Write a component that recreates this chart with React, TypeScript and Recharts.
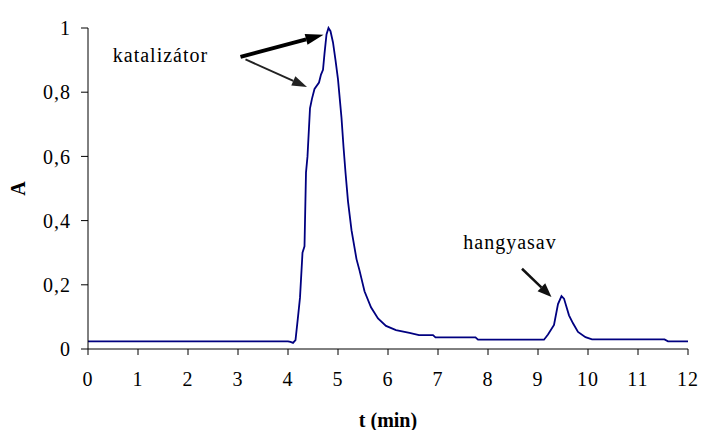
import React from "react";
import {
  LineChart,
  Line,
  XAxis,
  YAxis,
  ReferenceLine,
  ReferenceDot,
  Label,
} from "recharts";

// chromatogram readings: time (min) and absorbance
const times = [
  0, 4.0, 4.05, 4.1, 4.15, 4.2, 4.24, 4.29, 4.33, 4.36, 4.39, 4.44, 4.48, 4.53,
  4.62, 4.66, 4.7, 4.73, 4.77, 4.81, 4.85, 4.9, 4.95, 5.0, 5.07, 5.11, 5.15, 5.2,
  5.27, 5.37, 5.43, 5.53, 5.66, 5.8, 5.96, 6.16, 6.43, 6.62, 6.9, 6.95, 7.75,
  7.8, 9.12, 9.2, 9.32, 9.4, 9.47, 9.52, 9.62, 9.7, 9.8, 9.95, 10.08, 11.53,
  11.6, 12,
];
const absorbance = [
  0.024, 0.024, 0.022, 0.019, 0.028, 0.1, 0.16, 0.3, 0.32, 0.55, 0.6, 0.75, 0.78,
  0.81, 0.83, 0.855, 0.87, 0.92, 0.98, 1.0, 0.99, 0.955, 0.9, 0.84, 0.72, 0.63,
  0.55, 0.46, 0.37, 0.28, 0.245, 0.18, 0.13, 0.095, 0.072, 0.059, 0.05, 0.043,
  0.043, 0.036, 0.036, 0.029, 0.029, 0.045, 0.075, 0.14, 0.165, 0.157, 0.105,
  0.08, 0.053, 0.037, 0.03, 0.03, 0.024, 0.024,
];

const xTicks = [0, 1, 2, 3, 4, 5, 6, 7, 8, 9, 10, 11, 12];
const yTicks = [0, 0.2, 0.4, 0.6, 0.8, 1];

// annotation arrows in data units: [from, to]
const catalystArrowBig = [{ x: 3.05, y: 0.91 }, { x: 4.71, y: 0.979 }];
const catalystArrowSmall = [{ x: 3.15, y: 0.902 }, { x: 4.38, y: 0.816 }];
const acidArrow = [{ x: 8.68, y: 0.25 }, { x: 9.27, y: 0.162 }];
const catalystLabel = { x: 1.45, y: 0.895, text: "katalizátor" };
const acidLabel = { x: 8.44, y: 0.31, text: "hangyasav" };

const data = times.map((t, i) => ({ t, a: absorbance[i] }));

const FONT = "'Liberation Serif', 'Times New Roman', serif";

const arrowShape =
  (width: number, headLen: number, headWidth: number, color = "#000") =>
  (props: any) => {
    const { x1, y1, x2, y2 } = props;
    const dx = x2 - x1;
    const dy = y2 - y1;
    const len = Math.sqrt(dx * dx + dy * dy);
    const ux = dx / len;
    const uy = dy / len;
    const bx = x2 - ux * headLen;
    const by = y2 - uy * headLen;
    const px = -uy * (headWidth / 2);
    const py = ux * (headWidth / 2);
    return (
      <g>
        <line x1={x1} y1={y1} x2={bx} y2={by} stroke={color} strokeWidth={width} />
        <polygon
          points={`${x2},${y2} ${bx + px},${by + py} ${bx - px},${by - py}`}
          fill={color}
        />
      </g>
    );
  };

const textShape = (text: string) => (props: any) => (
  <text
    x={props.cx}
    y={props.cy}
    textAnchor="middle"
    fontFamily={FONT}
    fontSize={20}
    letterSpacing={1}
    fill="#000"
  >
    {text}
  </text>
);

const YLabel = (props: any) => {
  const vb = props.viewBox;
  const x = vb.x + 18;
  const y = vb.y + vb.height / 2;
  return (
    <text
      x={x}
      y={y}
      transform={`rotate(-90 ${x} ${y})`}
      textAnchor="middle"
      dominantBaseline="central"
      fontFamily={FONT}
      fontWeight="bold"
      fontSize={20}
      fill="#000"
    >
      A
    </text>
  );
};

const tickStyle = { fontFamily: FONT, fontSize: 20, fill: "#000", letterSpacing: 1 };

export default function App() {
  return (
    <div style={{ position: "absolute", left: 0, top: 0, background: "#fff" }}>
      <LineChart
        width={701}
        height={430}
        data={data}
        margin={{ top: 28, right: 13, left: 0, bottom: 0 }}
      >
        <XAxis
          dataKey="t"
          type="number"
          domain={[0, 12]}
          ticks={xTicks}
          interval={0}
          height={81}
          tickSize={6}
          tickMargin={17}
          stroke="#000"
          tick={tickStyle}
        >
          <Label
            value="t (min)"
            position="insideBottom"
            offset={3}
            style={{ fontFamily: FONT, fontSize: 20, fontWeight: "bold", fill: "#000" }}
          />
        </XAxis>
        <YAxis
          type="number"
          domain={[0, 1]}
          ticks={yTicks}
          interval={0}
          width={88}
          tickSize={7}
          tickMargin={10}
          stroke="#000"
          tick={tickStyle}
          tickFormatter={(v: number) => String(v).replace(".", ",")}
        >
          <Label content={<YLabel />} />
        </YAxis>
        <Line
          type="linear"
          dataKey="a"
          stroke="#000080"
          strokeWidth={1.8}
          dot={false}
          isAnimationActive={false}
        />
        <ReferenceLine segment={catalystArrowBig} shape={arrowShape(4, 18, 11)} />
        <ReferenceLine segment={catalystArrowSmall} shape={arrowShape(2, 15, 10, "#222")} />
        <ReferenceLine segment={acidArrow} shape={arrowShape(2.5, 14, 11, "#111")} />
        <ReferenceDot
          x={catalystLabel.x}
          y={catalystLabel.y}
          r={0}
          shape={textShape(catalystLabel.text)}
        />
        <ReferenceDot
          x={acidLabel.x}
          y={acidLabel.y}
          r={0}
          shape={textShape(acidLabel.text)}
        />
      </LineChart>
    </div>
  );
}
